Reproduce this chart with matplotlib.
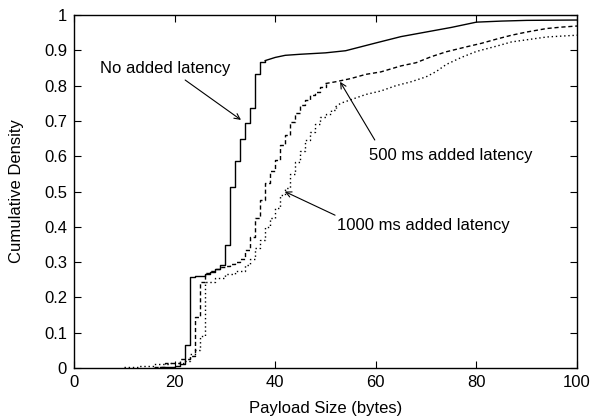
import matplotlib
matplotlib.use('Agg')
import matplotlib.pyplot as plt

plt.rcParams['font.family'] = ['Liberation Sans', 'DejaVu Sans']

# ---------- data (step CDFs) ----------
x_none = [17, 20, 21, 22, 23, 24, 26, 27, 28, 29, 30, 31, 32, 33, 34, 35, 36, 37, 38,
          40, 42, 45, 50, 54, 57, 60, 65, 70, 75, 80, 85, 90, 100]
y_none = [0.003, 0.006, 0.01, 0.065, 0.258, 0.262, 0.266, 0.272, 0.28, 0.292, 0.348,
          0.513, 0.587, 0.650, 0.693, 0.736, 0.833, 0.867, 0.871, 0.880, 0.886, 0.889,
          0.893, 0.899, 0.910, 0.921, 0.939, 0.952, 0.965, 0.980, 0.983, 0.985, 0.986]

x_500 = [16, 18, 21, 23, 24, 25, 26, 27, 28, 29, 30, 31, 32, 33, 34, 35, 36, 37, 38,
         39, 40, 41, 42, 43, 44, 45, 46, 47, 48, 49, 50, 52, 55, 58, 61, 65, 68, 71,
         74, 78, 81, 84, 87, 90, 94, 97, 100]
y_500 = [0.003, 0.015, 0.025, 0.035, 0.145, 0.245, 0.268, 0.275, 0.28, 0.285, 0.29,
         0.295, 0.30, 0.31, 0.334, 0.372, 0.424, 0.476, 0.524, 0.557, 0.589, 0.632,
         0.660, 0.698, 0.722, 0.745, 0.759, 0.773, 0.782, 0.797, 0.806, 0.811, 0.82,
         0.832, 0.839, 0.856, 0.865, 0.882, 0.896, 0.910, 0.920, 0.932, 0.943, 0.952,
         0.962, 0.966, 0.969]

x_1000 = [10, 13, 16, 19, 22, 23, 24, 25, 26, 28, 30, 32, 34, 35, 36, 37, 38, 39, 40,
          41, 42, 43, 44, 45, 46, 47, 48, 49, 50, 51, 52, 53, 55, 58, 61, 64, 67, 70,
          72, 74, 77, 80, 84, 87, 90, 94, 100]
y_1000 = [0.003, 0.006, 0.01, 0.013, 0.02, 0.04, 0.05, 0.09, 0.245, 0.255, 0.265,
          0.275, 0.292, 0.31, 0.34, 0.363, 0.40, 0.425, 0.453, 0.49, 0.51, 0.55, 0.585,
          0.615, 0.645, 0.67, 0.69, 0.71, 0.72, 0.73, 0.74, 0.75, 0.76, 0.775, 0.785,
          0.80, 0.811, 0.825, 0.84, 0.86, 0.88, 0.897, 0.912, 0.924, 0.93, 0.938, 0.943]

# beyond this payload size the byte-steps are so small they read as a line
step_end = {'none': 38, '500': 50, '1000': 52}

x_ticks = [0, 20, 40, 60, 80, 100]
y_ticks = [0, 0.1, 0.2, 0.3, 0.4, 0.5, 0.6, 0.7, 0.8, 0.9, 1]
y_tick_labels = ['0', '0.1', '0.2', '0.3', '0.4', '0.5', '0.6', '0.7', '0.8', '0.9', '1']


def draw_cdf(ax, xs, ys, x_end, **kw):
    k = xs.index(x_end) + 1
    ax.step(xs[:k], ys[:k], where='post', **kw)
    ax.plot(xs[k - 1:], ys[k - 1:], **kw)


fig = plt.figure(figsize=(5.9, 4.19), dpi=100)
ax = fig.add_axes([0.1254, 0.1217, 0.8526, 0.8423])

draw_cdf(ax, x_none, y_none, step_end['none'], color='black', linewidth=1.0)
draw_cdf(ax, x_500, y_500, step_end['500'], color='black', linewidth=1.0,
         linestyle=(0, (3, 2)))
draw_cdf(ax, x_1000, y_1000, step_end['1000'], color='black', linewidth=1.0,
         linestyle=(0, (1, 2)))

ax.set_xlim(0, 100)
ax.set_ylim(0, 1)
ax.set_xticks(x_ticks)
ax.set_yticks(y_ticks)
ax.set_yticklabels(y_tick_labels)
ax.tick_params(direction='in', top=True, right=True, length=5, labelsize=12, pad=5)
for s in ax.spines.values():
    s.set_linewidth(1.0)

ax.set_xlabel('Payload Size (bytes)', fontsize=12, labelpad=8)
ax.set_ylabel('Cumulative Density', fontsize=12, labelpad=14)

arrow = dict(arrowstyle='->', color='black', linewidth=0.8, shrinkA=0, shrinkB=0)
ax.text(5.2, 0.85, 'No added latency', fontsize=12, va='center', ha='left')
ax.annotate('', xy=(33.2, 0.703), xytext=(22.1, 0.816), arrowprops=arrow)
ax.text(58.6, 0.603, '500 ms added latency', fontsize=12, va='center', ha='left')
ax.annotate('', xy=(52.9, 0.811), xytext=(59.8, 0.646), arrowprops=arrow)
ax.text(52.3, 0.405, '1000 ms added latency', fontsize=12, va='center', ha='left')
ax.annotate('', xy=(41.9, 0.50), xytext=(51.9, 0.433), arrowprops=arrow)

plt.savefig('out.png', dpi=100)
